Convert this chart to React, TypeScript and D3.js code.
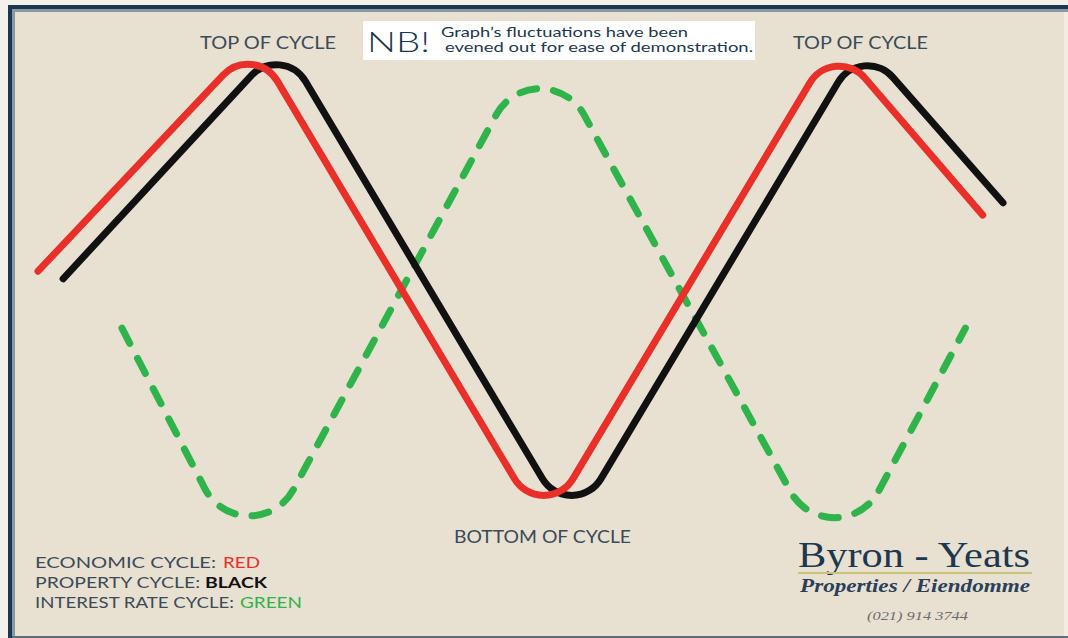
import React from "react";
import * as d3 from "d3";

// cycle turning points: time (0-100) and level (0 = bottom, 100 = top)
const economicTime = [0, 22.4, 52.4, 82.5, 97.9];
const economicLevel = [52.8, 101, -1.2, 101, 64.6];

const propertyTime = [2.6, 25.3, 55.3, 85.4, 100];
const propertyLevel = [51.2, 101, -1.2, 101, 67.2];

const interestTime = [8.7, 21.8, 52.0, 82.6, 96.1];
const interestLevel = [40.8, -10.7, 102.7, -10.7, 40.8];

const legendLabels = ["ECONOMIC CYCLE:", "PROPERTY CYCLE:", "INTEREST RATE CYCLE:"];
const legendWords = ["RED", "BLACK", "GREEN"];

const W = 1068;
const H = 638;
const BG = "#e8e0d1";
const TEXT = "#3b4b58";
const NAVY = "#1c3850";
const RED = "#ea2e28";
const BLACK = "#111111";
const GREEN = "#2fb34b";
const SANS = "Lato, 'DejaVu Sans', sans-serif";
const SERIF = "'Liberation Serif', 'DejaVu Serif', serif";

const x = d3.scaleLinear().domain([0, 100]).range([38, 1003]);
const y = d3.scaleLinear().domain([0, 100]).range([522, 47]);

// polyline through the turning points with rounded corners
function roundedPath(ts: number[], ls: number[], r: number) {
  const pts = ts.map((t, i) => [x(t), y(ls[i])]);
  const p = d3.path();
  p.moveTo(pts[0][0], pts[0][1]);
  for (let i = 1; i < pts.length - 1; i++) {
    p.arcTo(pts[i][0], pts[i][1], pts[i + 1][0], pts[i + 1][1], r);
  }
  const last = pts[pts.length - 1];
  p.lineTo(last[0], last[1]);
  return p.toString();
}

export default function App() {
  const legendColors = [RED, BLACK, GREEN];
  const legendLabelLen = [181, 165, 199];
  const legendWordX = [223, 205, 240];
  const legendWordLen = [37, 62, 62];

  return (
    <svg
      width={W}
      height={H}
      style={{ position: "absolute", left: 0, top: 0, display: "block" }}
    >
      <rect x={0} y={0} width={W} height={H} fill="#f4f1ea" />
      <rect x={8} y={5} width={W - 8} height={H - 5} fill={BG} />
      <rect x={1064} y={11} width={4} height={H - 11} fill="#f2ede0" />
      {/* frame */}
      <rect x={8} y={5} width={W - 8} height={4} fill={NAVY} />
      <rect x={12} y={9} width={W - 12} height={3} fill="#8799a4" />
      <rect x={8} y={5} width={4} height={H - 5} fill={NAVY} />
      <rect x={12} y={9} width={3} height={H - 9} fill="#8799a4" />
      <rect x={12} y={636} width={W - 12} height={2} fill="#56707f" />

      {/* NB box */}
      <rect x={363} y={21} width={392} height={39} fill="#ffffff" />
      <text x={367} y={52} fontFamily={SANS} fontSize={27} fontWeight={300} fill={NAVY}
        textLength={63} lengthAdjust="spacingAndGlyphs">NB!</text>
      <text x={441} y={37} fontFamily={SANS} fontSize={12.5} fill={NAVY}
        textLength={247} lengthAdjust="spacingAndGlyphs">Graph’s fluctuations have been</text>
      <text x={445} y={52} fontFamily={SANS} fontSize={12.5} fill={NAVY}
        textLength={308} lengthAdjust="spacingAndGlyphs">evened out for ease of demonstration.</text>

      <text x={200} y={49} fontFamily={SANS} fontSize={17} fill={TEXT}
        textLength={136} lengthAdjust="spacingAndGlyphs">TOP OF CYCLE</text>
      <text x={793} y={49} fontFamily={SANS} fontSize={17} fill={TEXT}
        textLength={135} lengthAdjust="spacingAndGlyphs">TOP OF CYCLE</text>
      <text x={454} y={543} fontFamily={SANS} fontSize={17} fill={TEXT}
        textLength={177} lengthAdjust="spacingAndGlyphs">BOTTOM OF CYCLE</text>

      {/* cycles */}
      <path d={roundedPath(interestTime, interestLevel, 50)} fill="none"
        stroke={GREEN} strokeWidth={7} strokeLinecap="round" strokeDasharray="17 17" />
      <path d={roundedPath(propertyTime, propertyLevel, 34)} fill="none"
        stroke={BLACK} strokeWidth={7} strokeLinecap="round" />
      <path d={roundedPath(economicTime, economicLevel, 34)} fill="none"
        stroke={RED} strokeWidth={7} strokeLinecap="round" />

      {/* legend */}
      {legendLabels.map((l, i) => (
        <g key={l}>
          <text x={35} y={568 + i * 20} fontFamily={SANS} fontSize={16} fill={TEXT}
            textLength={legendLabelLen[i]} lengthAdjust="spacingAndGlyphs">{l}</text>
          <text x={legendWordX[i]} y={568 + i * 20} fontFamily={SANS} fontSize={16}
            fill={legendColors[i]} fontWeight={i === 1 ? 700 : 400}
            textLength={legendWordLen[i]} lengthAdjust="spacingAndGlyphs">{legendWords[i]}</text>
        </g>
      ))}

      {/* logo */}
      <text x={798} y={567} fontFamily={SERIF} fontSize={35} fill={NAVY}
        textLength={232} lengthAdjust="spacingAndGlyphs">Byron - Yeats</text>
      <rect x={798} y={572} width={234} height={2} fill="#c9c27a" />
      <text x={800} y={592} fontFamily={SERIF} fontSize={18} fontStyle="italic"
        fontWeight={700} fill="#2a4058" textLength={230}
        lengthAdjust="spacingAndGlyphs">Properties / Eiendomme</text>
      <text x={867} y={620} fontFamily={SERIF} fontSize={13} fontStyle="italic"
        fill="#6d6d6d" textLength={101} lengthAdjust="spacingAndGlyphs">(021) 914 3744</text>
    </svg>
  );
}
